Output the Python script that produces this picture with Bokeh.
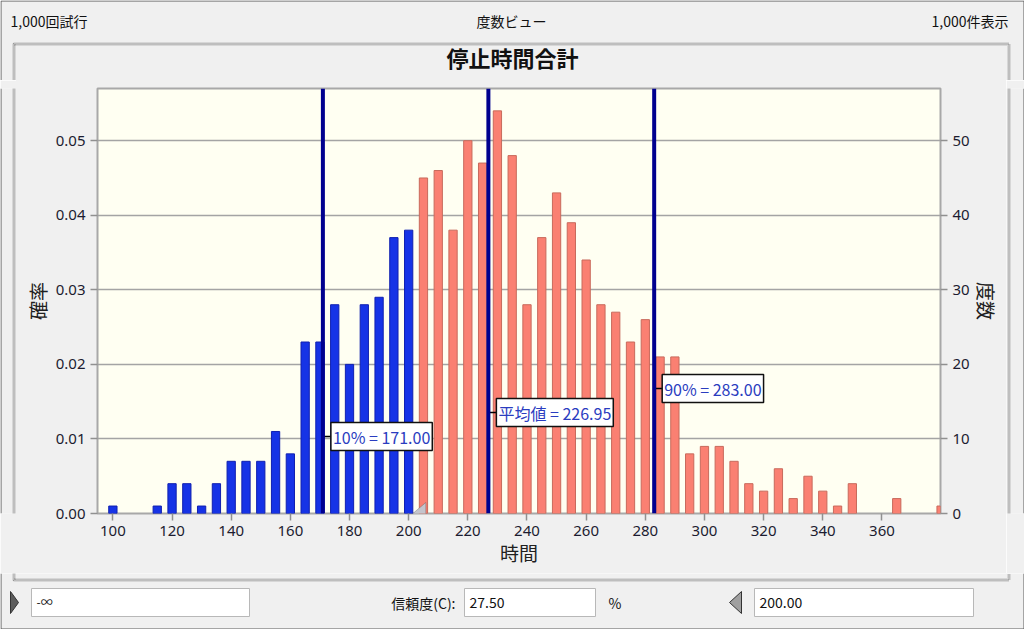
from bokeh.plotting import figure
from bokeh.layouts import column, row
from bokeh.models import (Range1d, LinearAxis, FixedTicker, NumeralTickFormatter,
                          Label, PolyAnnotation, Span, ColumnDataSource)
from bokeh.core.properties import value
from bokeh.embed import file_html
from bokeh.resources import INLINE

# ---------------- data ----------------
trials = 1000
bin_centers = [100, 105, 110, 115, 120, 125, 130, 135, 140, 145, 150, 155, 160, 165, 170,
               175, 180, 185, 190, 195, 200, 205, 210, 215, 220, 225, 230, 235, 240, 245,
               250, 255, 260, 265, 270, 275, 280, 285, 290, 295, 300, 305, 310, 315, 320,
               325, 330, 335, 340, 345, 350, 355, 360, 365, 370, 375, 380]
counts = [1, 0, 0, 1, 4, 4, 1, 4, 7, 7, 7, 11, 8, 23, 23,
          28, 20, 28, 29, 37, 38, 45, 46, 38, 50, 47, 54, 48, 28, 37,
          43, 39, 34, 28, 27, 23, 26, 21, 21, 8, 9, 9, 7, 4, 3,
          6, 2, 5, 3, 1, 4, 0, 0, 2, 0, 0, 1]
certainty_upper = 200.0
certainty_text = "27.50"
stat_names = ["10%", "平均値", "90%"]
stat_values = [171.00, 226.95, 283.00]
x_ticks = [100, 120, 140, 160, 180, 200, 220, 240, 260, 280, 300, 320, 340, 360]
prob_ticks = [0.0, 0.01, 0.02, 0.03, 0.04, 0.05]
count_ticks = [0, 10, 20, 30, 40, 50]

# ---------------- styling ----------------
FONT = "Noto Sans CJK JP"
LAT = "Noto Sans"
BG = "#f0f0f0"
TXT = "#1c1c30"
DOT = "#8c8c8c"
EDGE = "#5a5a5a"


def deco(w, h, x0, y0):
    f = figure(width=w, height=h, x_range=Range1d(x0, x0 + w), y_range=Range1d(y0 + h, y0),
               x_axis_location=None, y_axis_location=None, toolbar_location=None,
               output_backend="svg", min_border=0)
    f.grid.grid_line_color = None
    f.outline_line_color = None
    f.background_fill_color = BG
    f.border_fill_color = BG
    return f


def txt(f, x, y, t, align="left", size="14px", style="normal", color="#111111"):
    f.text(x=[x], y=[y], text=[t], text_align=align, text_baseline="middle",
           text_font=value(FONT), text_font_size=size, text_font_style=style, text_color=color)


# ---------- header (y 0..80) ----------
top = deco(1024, 80, 0, 0)
txt(top, 10, 20, "1,000回試行")
txt(top, 511, 20, "度数ビュー", align="center")
txt(top, 1008, 20, "1,000件表示", align="right")
top.line(x=[13.5, 13.5, 1008.5, 1008.5], y=[80, 43.5, 43.5, 80], line_color=DOT, line_width=3, line_dash="1 1")
txt(top, 512, 56, "停止時間合計", align="center", size="22px", style="bold")
top.line(x=[0.5, 0.5, 1023.5, 1023.5], y=[80, 0.5, 0.5, 80], line_color=EDGE, line_width=1)

# ---------- side strips (y 80..573) ----------
left = deco(16, 493, 0, 80)
left.line(x=[13.5, 13.5], y=[80, 573], line_color=DOT, line_width=3, line_dash="1 1")
left.line(x=[0.5, 0.5], y=[80, 573], line_color=EDGE, line_width=1)

right = deco(18, 493, 1006, 80)
right.line(x=[1008.5, 1008.5], y=[80, 573], line_color=DOT, line_width=3, line_dash="1 1")
right.line(x=[1023.5, 1023.5], y=[80, 573], line_color=EDGE, line_width=1)

# ---------- main chart ----------
p = figure(width=990, height=493, output_backend="svg", toolbar_location=None,
           x_range=Range1d(94.8, 379.8), y_range=Range1d(0, 0.057),
           min_border_left=81, min_border_right=66, min_border_top=8, min_border_bottom=60,
           styles={"background-color": BG})
p.extra_y_ranges = {"count": Range1d(0, 57)}
p.border_fill_color = BG
p.border_fill_alpha = 0.0
p.background_fill_color = "#fffff2"
p.outline_line_color = "#a8a8a8"
p.outline_line_width = 2

keep = [i for i, c in enumerate(counts) if c > 0]
xs = [bin_centers[i] for i in keep]
probs = [counts[i] / trials for i in keep]
colors = ["#1633e6" if x <= certainty_upper else "#fa8072" for x in xs]
lines = ["#1020b0" if x <= certainty_upper else "#c86a5c" for x in xs]
src = ColumnDataSource(dict(x=xs, top=probs, fill=colors, line=lines))
p.vbar(x="x", top="top", bottom=0, width=2.8, source=src, fill_color="fill",
       line_color="line", line_width=1)


def style_axis(ax, label):
    ax.axis_line_color = None
    ax.major_tick_line_color = "#909090"
    ax.major_tick_line_width = 1.5
    ax.major_tick_out = 7
    ax.major_tick_in = 0
    ax.minor_tick_line_color = None
    ax.major_label_standoff = 5
    ax.major_label_text_font = LAT
    ax.major_label_text_font_size = "15px"
    ax.major_label_text_color = TXT
    ax.axis_label = label
    ax.axis_label_text_font = FONT
    ax.axis_label_text_font_size = "19px"
    ax.axis_label_text_font_style = "normal"
    ax.axis_label_text_color = "#202020"


xax = p.xaxis[0]
xax.ticker = FixedTicker(ticks=x_ticks)
style_axis(xax, "時間")
xax.axis_label_standoff = 0

yax = p.yaxis[0]
yax.ticker = FixedTicker(ticks=prob_ticks)
yax.formatter = NumeralTickFormatter(format="0.00")
style_axis(yax, "確率")
yax.axis_label_standoff = 2

rax = LinearAxis(y_range_name="count", ticker=FixedTicker(ticks=count_ticks))
style_axis(rax, "度数")
rax.axis_label_standoff = 0
p.add_layout(rax, "right")

p.xgrid.grid_line_color = None
p.ygrid.grid_line_color = "#a4a4a4"
p.ygrid.grid_line_width = 1.5

frame_h = 425.0
px_per_unit = 843.0 / (379.8 - 94.8)
label_y = [77, 101, 125]
for name, v, ly in zip(stat_names, stat_values, label_y):
    p.add_layout(Span(location=v, dimension="height", line_color="#00008f", line_width=4))
    yd = ly / frame_h * 0.057
    p.segment(x0=[v], x1=[v + 8 / px_per_unit], y0=[yd], y1=[yd], line_color="black", line_width=1.5)
    p.add_layout(Label(x=v, x_units="data", x_offset=8, y=ly, y_units="screen",
                       text=f"{name} = {v:.2f}", text_align="left", text_baseline="middle",
                       text_font=FONT, text_font_size="16px", text_color="#2a3cc0",
                       background_fill_color="white", border_line_color="#101010",
                       border_line_width=1.5, padding=2))

hx = certainty_upper + 1.4
p.add_layout(PolyAnnotation(xs=[hx, hx + 13 / px_per_unit, hx + 13 / px_per_unit], ys=[0, 11, -12],
                            xs_units="data", ys_units="screen",
                            fill_color="#c4c4cc", fill_alpha=1, line_color="#444444", line_width=1))

# ---------- footer (y 573..629) ----------
foot = deco(1024, 56, 0, 573)
foot.line(x=[13.5, 13.5, 1008.5, 1008.5], y=[573, 579.5, 579.5, 573], line_color=DOT, line_width=3, line_dash="1 1")
foot.quad(left=[31, 464, 754], right=[249, 595, 973], top=[588, 588, 588], bottom=[616, 616, 616],
          fill_color="white", line_color="#b8b8b8", line_width=1)
txt(foot, 36, 601, "-∞", size="12px")
txt(foot, 469, 602, certainty_text)
txt(foot, 759, 602, f"{certainty_upper:.2f}")
txt(foot, 455, 602, "信頼度(C):", align="right")
txt(foot, 608, 602, "%")
foot.patch(x=[10, 18, 10], y=[591, 602, 613], fill_color="#5c5c5c", line_color="#333333")
foot.patch(x=[741, 729, 741], y=[591, 602, 613], fill_color="#a0a0a0", line_color="#333333")
foot.line(x=[0.5, 0.5, 1023.5, 1023.5], y=[573, 628.5, 628.5, 573], line_color=EDGE, line_width=1)

layout = column(top, row(left, p, right, spacing=0), foot, spacing=0)
open("out.html", "w").write(file_html(layout, INLINE))
